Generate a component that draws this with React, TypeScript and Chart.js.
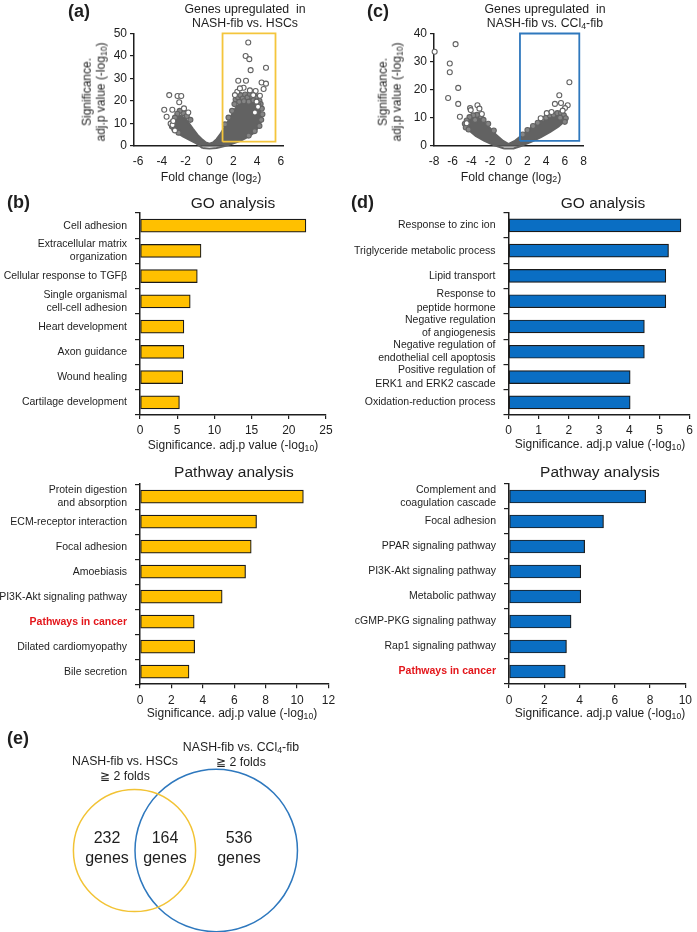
import React, { useEffect, useRef } from "react";
import { Chart, registerables } from "chart.js";
Chart.register(...registerables);

const W = 697;
const H = 932;
const FONT = "'Liberation Sans', Arial, Helvetica, sans-serif";
const INK = "#1e1e1e";
const YELLOW = "#FFC000";
const BLUE = "#0A6EC3";
const BOX_YELLOW = "#F4C53C";
const BOX_BLUE = "#2F78BD";
const DOT = "#626262";
const DOT_DENSE_FILL = "#858585";
const RED = "#E3161B";

// ---------------- (a) volcano: NASH-fib vs HSCs ----------------
const volcanoA_xTicks = [-6, -4, -2, 0, 2, 4, 6];
const volcanoA_yTicks = [0, 10, 20, 30, 40, 50];
const volcanoA_boxX = [1.1, 5.55];
const volcanoA_boxY = [1.8, 50];
const volcanoA_mass: [number, number][] = [
  [-0.6, -1.0], [0, -1.3], [0.6, -1.0], [1.2, -0.3], [1.9, 0.8], [2.6, 2.2], [3.2, 3.8], [3.7, 5.6],
  [4.05, 7.8], [4.3, 10.5], [4.35, 13.5], [4.2, 16.5], [3.9, 18.5], [3.5, 19.5], [3.0, 19.8],
  [2.6, 19.0], [2.3, 17.5], [2.05, 15.5], [1.8, 13.0], [1.5, 10.3], [1.2, 7.6], [0.9, 5.0],
  [0.6, 2.9], [0.3, 1.4], [0, 0.9], [-0.3, 1.4], [-0.6, 2.7], [-1.0, 4.8], [-1.4, 7.6],
  [-1.75, 10.2], [-2.05, 12.2], [-2.4, 13.3], [-2.75, 12.8], [-2.95, 11.0], [-2.95, 8.5],
  [-2.85, 6.6], [-2.5, 5.0], [-2.2, 4.0], [-1.6, 2.4], [-1.1, 1.0], [-0.6, -1.0],
];
const volcanoA_outliers: [number, number][] = [
  [3.26, 45.9], [3.04, 39.9], [3.35, 38.5], [3.46, 33.6], [4.75, 34.7], [2.42, 28.9], [3.07, 28.9],
  [4.38, 28.1], [4.75, 27.6], [4.55, 25.2], [2.87, 25.8], [3.4, 24.6], [3.88, 24.3], [4.24, 22.2],
  [2.34, 24.0], [2.56, 25.5], [3.68, 22.5], [2.14, 22.5], [3.96, 19.6], [4.08, 17.3], [3.82, 14.8],
  [-3.38, 22.5], [-2.68, 22.1], [-2.37, 22.1], [-2.54, 19.3], [-3.8, 16.0], [-3.12, 16.0],
  [-3.6, 12.9], [-3.26, 9.8], [-3.1, 9.2], [-2.9, 6.8], [-2.14, 16.6], [-1.78, 14.8], [-3.04, 11.0],
];
const volcanoA_edge: [number, number][] = [
  [2.2, 20.5], [2.4, 21.5], [2.6, 22.5], [2.8, 21.0], [3.0, 22.8], [3.2, 21.5], [3.4, 23.0],
  [3.6, 21.8], [3.8, 22.6], [4.0, 21.2], [4.2, 20.0], [3.9, 19.5], [4.3, 18.5], [4.4, 16.5],
  [4.45, 14.0], [2.5, 19.5], [2.9, 19.8], [3.3, 19.6], [3.7, 20.2], [4.1, 18.2], [2.1, 18.5],
  [1.9, 15.5], [1.6, 12.5], [1.3, 9.5], [4.35, 11.5], [4.2, 8.8], [3.8, 6.5], [3.3, 4.5],
  [-2.2, 14.5], [-2.5, 15.5], [-2.7, 14.2], [-2.9, 12.5], [-3.1, 10.5], [-3.15, 8.5],
  [-1.9, 13.2], [-1.6, 11.5], [-2.95, 7.2], [-2.6, 5.8],
];

// ---------------- (c) volcano: NASH-fib vs CCl4-fib ----------------
const volcanoC_xTicks = [-8, -6, -4, -2, 0, 2, 4, 6, 8];
const volcanoC_yTicks = [0, 10, 20, 30, 40];
const volcanoC_boxX = [1.2, 7.55];
const volcanoC_boxY = [1.7, 40];
const volcanoC_mass: [number, number][] = [
  [-0.5, -1.0], [0.5, -1.0], [1.4, 0.0], [2.4, 1.4], [3.4, 3.0], [4.4, 4.8], [5.3, 6.8], [5.9, 8.5],
  [6.1, 10.0], [5.8, 11.2], [5.2, 11.4], [4.6, 11.0], [4.0, 10.3], [3.4, 9.0], [2.7, 7.3],
  [2.0, 5.4], [1.3, 3.4], [0.6, 1.6], [0, 0.6], [-0.6, 1.7], [-1.3, 3.7], [-1.9, 5.9], [-2.5, 8.0],
  [-3.1, 9.6], [-3.7, 10.2], [-4.2, 9.8], [-4.6, 8.6], [-4.65, 7.0], [-4.2, 5.3], [-3.5, 3.4],
  [-2.6, 1.7], [-1.6, 0.2], [-0.5, -1.0],
];
const volcanoC_outliers: [number, number][] = [
  [-7.93, 33.5], [-5.69, 36.2], [-6.31, 29.3], [-6.31, 26.2], [-5.41, 20.6], [-6.49, 17.0],
  [-5.41, 14.9], [-5.23, 10.3], [-4.14, 13.4], [-4.07, 12.7], [-3.35, 14.4], [-3.14, 13.2],
  [-4.5, 8.0], [-2.88, 11.3],
  [6.49, 22.6], [5.41, 18.0], [6.31, 14.4], [4.94, 14.9], [5.59, 15.2], [6.02, 13.4], [5.77, 12.5],
  [4.07, 11.6], [4.58, 12.0], [3.42, 9.8],
];
const volcanoC_edge: [number, number][] = [
  [-3.0, 10.5], [-3.4, 11.0], [-3.8, 10.8], [-4.2, 10.2], [-4.5, 9.0], [-4.7, 7.8], [-4.6, 6.5],
  [-2.7, 9.2], [-2.2, 7.8], [-3.6, 9.2], [-1.6, 5.4], [-4.3, 5.8],
  [3.6, 9.5], [4.0, 10.0], [4.4, 10.8], [4.8, 11.0], [5.2, 11.6], [5.6, 11.6], [5.9, 10.8],
  [6.1, 9.8], [6.0, 8.5], [3.1, 8.2], [2.6, 7.0], [5.5, 10.0], [2.0, 5.6], [1.5, 4.0],
];

// ---------------- (b) GO / Pathway ----------------
const goB_labels = [
  "Cell adhesion", ["Extracellular matrix", "organization"], "Cellular response to TGFβ",
  ["Single organismal", "cell-cell adhesion"], "Heart development", "Axon guidance",
  "Wound healing", "Cartilage development",
];
const goB_values = [22.3, 8.2, 7.7, 6.75, 5.9, 5.9, 5.75, 5.3];
const goB_xTicks = { max: 25, step: 5 };

const pathB_labels = [
  ["Protein digestion", "and absorption"], "ECM-receptor interaction", "Focal adhesion",
  "Amoebiasis", "PI3K-Akt signaling pathway", "Pathways in cancer", "Dilated cardiomyopathy",
  "Bile secretion",
];
const pathB_values = [10.4, 7.42, 7.08, 6.72, 5.23, 3.45, 3.48, 3.12];
const pathB_xTicks = { max: 12, step: 2 };

// ---------------- (d) GO / Pathway ----------------
const goD_labels = [
  "Response to zinc ion", "Triglyceride metabolic process", "Lipid transport",
  ["Response to", "peptide hormone"], ["Negative regulation", "of angiogenesis"],
  ["Negative regulation of", "endothelial cell apoptosis"], ["Positive regulation of", "ERK1 and ERK2 cascade"],
  "Oxidation-reduction process",
];
const goD_values = [5.71, 5.3, 5.21, 5.21, 4.5, 4.5, 4.03, 4.03];
const goD_xTicks = { max: 6, step: 1 };

const pathD_labels = [
  ["Complement and", "coagulation cascade"], "Focal adhesion", "PPAR signaling pathway",
  "PI3K-Akt signaling pathway", "Metabolic pathway", "cGMP-PKG signaling pathway",
  "Rap1 signaling pathway", "Pathways in cancer",
];
const pathD_values = [7.75, 5.36, 4.29, 4.07, 4.07, 3.52, 3.26, 3.19];
const pathD_xTicks = { max: 10, step: 2 };

const highlighted = ["Pathways in cancer"];

// ---------------- (e) Venn ----------------
const vennOnlyHSC = 232;
const vennBoth = 164;
const vennOnlyCCl4 = 536;

type Area = { l: number; t: number; r: number; b: number };

function volcanoConfig(o: {
  area: Area; xMin: number; xMax: number; xTicks: number[]; yTicks: number[];
  mass: [number, number][]; outliers: [number, number][]; edge: [number, number][];
  boxX: number[]; boxY: number[]; boxColor: string;
}): any {
  const yW = 40;
  const xH = 30;
  const rect = [
    [o.boxX[0], o.boxY[0]], [o.boxX[1], o.boxY[0]], [o.boxX[1], o.boxY[1]],
    [o.boxX[0], o.boxY[1]], [o.boxX[0], o.boxY[0]],
  ];
  const yMax = o.yTicks[o.yTicks.length - 1];
  return {
    type: "scatter",
    data: {
      datasets: [
        {
          data: rect.map(([x, y]) => ({ x, y })), showLine: true, borderColor: o.boxColor,
          borderWidth: 1.8, pointRadius: 0, fill: false, clip: false,
        },
        {
          data: o.outliers.map(([x, y]) => ({ x, y })), showLine: false, pointRadius: 2.5,
          pointBorderWidth: 1.1, pointBorderColor: DOT, pointBackgroundColor: "#ffffff", clip: false,
        },
        {
          data: o.edge.map(([x, y]) => ({ x, y })), showLine: false, pointRadius: 2.5,
          pointBorderWidth: 1.1, pointBorderColor: DOT, pointBackgroundColor: DOT_DENSE_FILL, clip: false,
        },
        {
          data: o.mass.map(([x, y]) => ({ x, y })), showLine: true, borderColor: DOT, borderWidth: 2,
          borderJoinStyle: "round", backgroundColor: DOT, pointRadius: 0, fill: "shape", tension: 0, clip: false,
        },
      ],
    },
    options: {
      animation: false, responsive: false, events: [],
      layout: { autoPadding: false, padding: { left: o.area.l - yW, right: W - o.area.r, top: o.area.t, bottom: H - o.area.b - xH } },
      plugins: { legend: { display: false }, tooltip: { enabled: false } },
      scales: {
        x: {
          type: "linear", min: o.xMin, max: o.xMax,
          afterBuildTicks: (s: any) => { s.ticks = o.xTicks.map((v) => ({ value: v })); },
          afterFit: (s: any) => { s.height = xH; },
          grid: { display: false, drawTicks: false },
          border: { display: true, color: INK, width: 1.5 },
          ticks: { font: { family: FONT, size: 12 }, color: INK, padding: 9, maxRotation: 0, autoSkip: false },
        },
        y: {
          type: "linear", min: 0, max: yMax,
          afterBuildTicks: (s: any) => { s.ticks = o.yTicks.map((v) => ({ value: v })); },
          afterFit: (s: any) => { s.width = yW; },
          grid: { drawOnChartArea: false, drawTicks: true, tickLength: 4, color: INK, lineWidth: 1.2 },
          border: { display: true, color: INK, width: 1.5 },
          ticks: { font: { family: FONT, size: 12 }, color: INK, padding: 3 },
        },
      },
    },
  };
}

function barConfig(o: {
  area: Area; labels: any[]; values: number[]; color: string; xMax: number; xStep: number; yW: number; xPad: number;
}): any {
  const xH = 30;
  return {
    type: "bar",
    data: {
      labels: o.labels,
      datasets: [{
        data: o.values, backgroundColor: o.color, borderColor: "#1a1a1a", borderWidth: 1.2,
        borderSkipped: false, barThickness: 13,
      }],
    },
    options: {
      indexAxis: "y", animation: false, responsive: false, events: [],
      layout: { autoPadding: false, padding: { left: o.area.l - o.yW, right: W - o.area.r, top: o.area.t, bottom: H - o.area.b - xH } },
      plugins: { legend: { display: false }, tooltip: { enabled: false } },
      scales: {
        x: {
          type: "linear", min: 0, max: o.xMax,
          afterFit: (s: any) => { s.height = xH; },
          grid: { drawOnChartArea: false, drawTicks: true, tickLength: 4, color: INK, lineWidth: 1.2 },
          border: { display: true, color: INK, width: 1.5 },
          ticks: { stepSize: o.xStep, font: { family: FONT, size: 12 }, color: INK, padding: o.xPad, maxRotation: 0 },
        },
        y: {
          type: "category", offset: true,
          afterFit: (s: any) => { s.width = o.yW; },
          grid: { offset: true, drawOnChartArea: false, drawTicks: true, tickLength: 5, color: INK, lineWidth: 1.2 },
          border: { display: true, color: INK, width: 1.5 },
          ticks: {
            autoSkip: false, padding: 8,
            color: (ctx: any) => (ctx.tick && highlighted.includes(String(ctx.tick.label)) ? RED : INK),
            font: (ctx: any) => ({
              family: FONT, size: 10.5, lineHeight: 1.27,
              weight: ctx.tick && highlighted.includes(String(ctx.tick.label)) ? "bold" : "normal",
            }),
          },
        },
      },
    },
  };
}

function lensArea(r1: number, r2: number, d: number) {
  if (d >= r1 + r2) return 0;
  if (d <= Math.abs(r1 - r2)) return Math.PI * Math.min(r1, r2) ** 2;
  const a = r1 * r1 * Math.acos((d * d + r1 * r1 - r2 * r2) / (2 * d * r1));
  const b = r2 * r2 * Math.acos((d * d + r2 * r2 - r1 * r1) / (2 * d * r2));
  const c = 0.5 * Math.sqrt((-d + r1 + r2) * (d + r1 - r2) * (d - r1 + r2) * (d + r1 + r2));
  return a + b - c;
}

function vennConfig(): any {
  const sizeA = vennOnlyHSC + vennBoth;
  const sizeB = vennOnlyCCl4 + vennBoth;
  const pxPerSqrtGene = 3.07;
  const rA = pxPerSqrtGene * Math.sqrt(sizeA);
  const rB = pxPerSqrtGene * Math.sqrt(sizeB);
  const target = (vennBoth / sizeA) * Math.PI * rA * rA;
  let lo = Math.abs(rA - rB);
  let hi = rA + rB;
  for (let i = 0; i < 60; i++) {
    const mid = (lo + hi) / 2;
    if (lensArea(rA, rB, mid) > target) lo = mid; else hi = mid;
  }
  const d = (lo + hi) / 2;
  const cx = 134.5;
  const cy = 850.5;
  return {
    type: "bubble",
    data: {
      datasets: [
        { data: [{ x: cx, y: cy, r: rA }], borderColor: "#F2C335", backgroundColor: "rgba(0,0,0,0)", borderWidth: 1.5, clip: false },
        { data: [{ x: cx + d, y: cy, r: rB }], borderColor: "#2E78BE", backgroundColor: "rgba(0,0,0,0)", borderWidth: 1.5, clip: false },
      ],
    },
    options: {
      animation: false, responsive: false, events: [],
      layout: { autoPadding: false, padding: 0 },
      plugins: { legend: { display: false }, tooltip: { enabled: false } },
      scales: {
        x: { type: "linear", min: 0, max: W, display: false },
        y: { type: "linear", min: 0, max: H, reverse: true, display: false },
      },
    },
  };
}

function Layer({ make }: { make: () => any }) {
  const ref = useRef<HTMLCanvasElement>(null);
  useEffect(() => {
    const chart = new Chart(ref.current as HTMLCanvasElement, make());
    return () => chart.destroy();
  }, []);
  return (
    <canvas ref={ref} width={W} height={H}
      style={{ position: "absolute", left: 0, top: 0, width: W, height: H }} />
  );
}

function Txt(props: {
  x: number; y: number; size?: number; bold?: boolean; color?: string; anchor?: "left" | "center";
  rotate?: boolean; lh?: number; pre?: boolean; children: React.ReactNode;
}) {
  const { x, y, size = 12, bold = false, color = INK, anchor = "center", rotate = false, lh, pre } = props;
  const tx = anchor === "center" ? "-50%" : "0";
  return (
    <div style={{
      position: "absolute", left: x, top: y,
      transform: `translate(${tx},-50%)${rotate ? " rotate(-90deg)" : ""}`,
      fontFamily: FONT, fontSize: size, fontWeight: bold ? 700 : 400, color,
      lineHeight: lh ? `${lh}px` : `${Math.round(size * 1.2)}px`, textAlign: "center",
      whiteSpace: pre ? "pre" : "nowrap",
    }}>{props.children}</div>
  );
}

const Sub = ({ children }: { children: React.ReactNode }) => (
  <span style={{ fontSize: "0.72em", verticalAlign: "-0.22em", lineHeight: 0 }}>{children}</span>
);

export default function App() {
  const sigTitle = (<>Significance. adj.p value (-log<Sub>10</Sub>)</>);
  return (
    <div style={{ position: "absolute", left: 0, top: 0, width: W, height: H, background: "#fff", overflow: "hidden" }}>
      <Layer make={() => volcanoConfig({
        area: { l: 134, t: 33.3, r: 283, b: 145.7 }, xMin: -6.34, xMax: 6.18,
        xTicks: volcanoA_xTicks, yTicks: volcanoA_yTicks, mass: volcanoA_mass,
        outliers: volcanoA_outliers, edge: volcanoA_edge,
        boxX: volcanoA_boxX, boxY: volcanoA_boxY, boxColor: BOX_YELLOW,
      })} />
      <Layer make={() => volcanoConfig({
        area: { l: 434, t: 33.5, r: 583.5, b: 145.7 }, xMin: -8, xMax: 8,
        xTicks: volcanoC_xTicks, yTicks: volcanoC_yTicks, mass: volcanoC_mass,
        outliers: volcanoC_outliers, edge: volcanoC_edge,
        boxX: volcanoC_boxX, boxY: volcanoC_boxY, boxColor: BOX_BLUE,
      })} />
      <Layer make={() => barConfig({
        area: { l: 140, t: 213, r: 326, b: 415 }, labels: goB_labels, values: goB_values, color: YELLOW,
        xMax: goB_xTicks.max, xStep: goB_xTicks.step, yW: 140, xPad: 4,
      })} />
      <Layer make={() => barConfig({
        area: { l: 140, t: 484.2, r: 328.5, b: 684.2 }, labels: pathB_labels, values: pathB_values, color: YELLOW,
        xMax: pathB_xTicks.max, xStep: pathB_xTicks.step, yW: 140, xPad: 5,
      })} />
      <Layer make={() => barConfig({
        area: { l: 508.5, t: 212.7, r: 692, b: 415 }, labels: goD_labels, values: goD_values, color: BLUE,
        xMax: goD_xTicks.max, xStep: goD_xTicks.step, yW: 168, xPad: 4,
      })} />
      <Layer make={() => barConfig({
        area: { l: 509, t: 484, r: 690, b: 684 }, labels: pathD_labels, values: pathD_values, color: BLUE,
        xMax: pathD_xTicks.max, xStep: pathD_xTicks.step, yW: 168, xPad: 5,
      })} />
      <Layer make={vennConfig} />

      {/* panel letters */}
      <Txt x={68} y={10.5} size={18} bold anchor="left">(a)</Txt>
      <Txt x={367} y={10.5} size={18} bold anchor="left">(c)</Txt>
      <Txt x={7} y={202} size={18} bold anchor="left">(b)</Txt>
      <Txt x={351} y={202} size={18} bold anchor="left">(d)</Txt>
      <Txt x={7} y={738} size={18} bold anchor="left">(e)</Txt>

      {/* volcano titles */}
      <Txt x={245} y={16.3} size={12.3} lh={14} pre>{"Genes upregulated  in"}<br />NASH-fib vs. HSCs</Txt>
      <Txt x={545} y={16.3} size={12.3} lh={14} pre>{"Genes upregulated  in"}<br />NASH-fib vs. CCl<Sub>4</Sub>-fib</Txt>
      <Txt x={94} y={92} size={12} lh={14.3} rotate>Significance.<br />adj.p value (-log<Sub>10</Sub>)</Txt>
      <Txt x={390} y={92} size={12} lh={14.3} rotate>Significance.<br />adj.p value (-log<Sub>10</Sub>)</Txt>
      <Txt x={211} y={176.5} size={12.3}>Fold change (log<Sub>2</Sub>)</Txt>
      <Txt x={511} y={176.5} size={12.3}>Fold change (log<Sub>2</Sub>)</Txt>

      {/* bar titles */}
      <Txt x={233} y={202} size={15.5}>GO analysis</Txt>
      <Txt x={603} y={202} size={15.5}>GO analysis</Txt>
      <Txt x={234} y={470.5} size={15.5}>Pathway analysis</Txt>
      <Txt x={600} y={471} size={15.5}>Pathway analysis</Txt>
      <Txt x={233} y={445} size={12}>{sigTitle}</Txt>
      <Txt x={600} y={443.5} size={12}>{sigTitle}</Txt>
      <Txt x={232} y={713} size={12}>{sigTitle}</Txt>
      <Txt x={600} y={713} size={12}>{sigTitle}</Txt>

      {/* venn labels */}
      <Txt x={125} y={768.5} size={12.3} lh={15}>NASH-fib vs. HSCs<br />≧ 2 folds</Txt>
      <Txt x={241} y={755} size={12.3} lh={15}>NASH-fib vs. CCl<Sub>4</Sub>-fib<br />≧ 2 folds</Txt>
      <Txt x={107} y={848} size={16} lh={20}>{vennOnlyHSC}<br />genes</Txt>
      <Txt x={165} y={848} size={16} lh={20}>{vennBoth}<br />genes</Txt>
      <Txt x={239} y={848} size={16} lh={20}>{vennOnlyCCl4}<br />genes</Txt>
    </div>
  );
}
